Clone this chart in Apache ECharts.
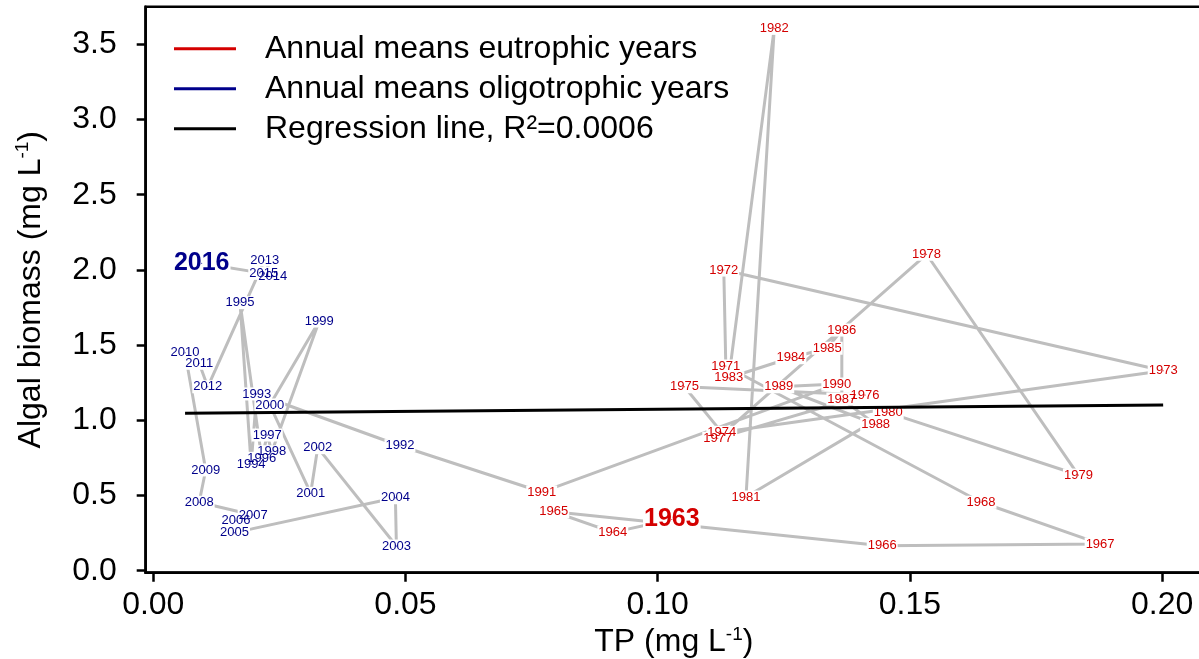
<!DOCTYPE html>
<html><head><meta charset="utf-8">
<script src="https://cdn.jsdelivr.net/npm/echarts@6/dist/echarts.min.js"></script>
<style>html,body{margin:0;padding:0;background:#fff}#c{width:1199px;height:659px}</style>
</head><body><div id="c"></div>
<script>
// ---- data ----
const eutroYears = [1963,1964,1965,1966,1967,1968,1971,1972,1973,1974,1975,1976,1977,1978,1979,1980,1981,1982,1983,1984,1985,1986,1987,1988,1989,1990,1991];
const eutroTP    = [0.1028,0.0911,0.0794,0.1445,0.1877,0.1641,0.1135,0.1131,0.2002,0.1127,0.1053,0.1411,0.1119,0.1533,0.1834,0.1457,0.1175,0.1231,0.1141,0.1264,0.1336,0.1365,0.1365,0.1432,0.1240,0.1355,0.0770];
const eutroAlgae = [0.340,0.255,0.392,0.166,0.178,0.455,1.361,1.999,1.330,0.920,1.223,1.168,0.880,2.104,0.636,1.051,0.490,3.606,1.283,1.416,1.479,1.600,1.142,0.973,1.223,1.241,0.523];
const oligoYears = [1992,1993,1994,1995,1996,1997,1998,1999,2000,2001,2002,2003,2004,2005,2006,2007,2008,2009,2010,2011,2012,2013,2014,2015,2016];
const oligoTP    = [0.0489,0.0205,0.0194,0.0172,0.0215,0.0226,0.0235,0.0329,0.0231,0.0312,0.0326,0.0482,0.0480,0.0161,0.0164,0.0198,0.0091,0.0104,0.0063,0.0091,0.0108,0.0221,0.0237,0.0219,0.0096];
const oligoAlgae = [0.831,1.175,0.707,1.782,0.747,0.902,0.791,1.660,1.102,0.515,0.818,0.164,0.485,0.253,0.332,0.370,0.455,0.670,1.449,1.379,1.223,2.066,1.955,1.977,2.044];
const highlightYears = [1963, 2016];
const regTP    = [0.0063, 0.2002];
const regAlgae = [1.047, 1.102];
const xTicks = [0, 0.05, 0.10, 0.15, 0.20];
const yTicks = [0, 0.5, 1.0, 1.5, 2.0, 2.5, 3.0, 3.5];
const seriesNames = ['Annual means eutrophic years', 'Annual means oligotrophic years', 'Regression line, R\u00b2=0.0006'];

// ---- build ----
const FONT = '"Liberation Sans", Arial, Helvetica, sans-serif';
const RED = '#d40000', BLUE = '#00008b', GREY = '#bebebe';

function pts(years, tp, al) {
  return years.map((y, i) => {
    const item = { value: [tp[i], al[i], y] };
    if (highlightYears.includes(y)) item.label = { fontSize: 25, fontWeight: 'bold' };
    return item;
  });
}
const allPts = pts(eutroYears, eutroTP, eutroAlgae).concat(pts(oligoYears, oligoTP, oligoAlgae));
const pathData = allPts.map(d => [d.value[0], d.value[1]]);

const yearLabel = (color, bg) => ({
  show: true, position: 'inside', formatter: p => String(p.value[2]),
  fontSize: 13, color: color, fontFamily: FONT, backgroundColor: bg, padding: [0, 1]
});

const axisCommon = {
  type: 'value', splitLine: { show: false },
  axisLine: { show: true, onZero: false, lineStyle: { color: '#000', width: 2.5 } },
  nameTextStyle: {
    rich: {
      n: { fontSize: 32, fontFamily: FONT, color: '#000', lineHeight: 34 },
      s: { fontSize: 19, fontFamily: FONT, color: '#000', verticalAlign: 'top', lineHeight: 34 }
    }
  }
};

const option = {
  animation: false,
  backgroundColor: '#fff',
  grid: { left: 145.7, top: 6.7, right: -3, bottom: 86.3, show: true, borderColor: '#000', borderWidth: 2.5, containLabel: false, outerBoundsMode: 'none' },
  legend: {
    data: seriesNames, orient: 'vertical', left: 169, top: 27.7, itemGap: 8,
    icon: 'rect', itemWidth: 62, itemHeight: 3, selectedMode: false,
    textStyle: { fontSize: 32, fontFamily: FONT, color: '#000', lineHeight: 32, padding: [0, 0, 0, 24] }
  },
  xAxis: Object.assign({}, axisCommon, {
    min: -0.0015, max: 0.2079,
    axisTick: { show: true, length: 9, lineStyle: { color: '#000', width: 2.5 }, customValues: xTicks },
    axisLabel: { customValues: xTicks, formatter: v => v.toFixed(2), fontSize: 32, fontFamily: FONT, color: '#000', margin: 16 },
    name: '{n|TP (mg L}{s|-1}{n|)}', nameLocation: 'middle', nameGap: 48
  }),
  yAxis: Object.assign({}, axisCommon, {
    min: -0.0133, max: 3.75,
    axisTick: { show: true, length: 9, lineStyle: { color: '#000', width: 2.5 }, customValues: yTicks },
    axisLabel: { customValues: yTicks, formatter: v => v.toFixed(1), fontSize: 32, fontFamily: FONT, color: '#000', margin: 29 },
    name: '{n|Algal biomass (mg L}{s|-1}{n|)}', nameLocation: 'middle', nameGap: 98, nameRotate: 90
  }),
  series: [
    { type: 'line', name: 'path', data: pathData, showSymbol: false, symbol: 'none', silent: true, z: 1,
      lineStyle: { color: GREY, width: 3 } },
    // white boxes under the year labels, cutting the path line around each point
    { type: 'scatter', name: 'gaps', data: allPts, symbolSize: 1, silent: true, z: 2,
      itemStyle: { color: '#fff', opacity: 1 }, label: yearLabel('rgba(0,0,0,0)', '#fff') },
    { type: 'scatter', name: seriesNames[0], data: pts(eutroYears, eutroTP, eutroAlgae), symbolSize: 1, silent: true, z: 3,
      itemStyle: { color: RED, opacity: 1 }, label: yearLabel(RED, 'transparent') },
    { type: 'scatter', name: seriesNames[1], data: pts(oligoYears, oligoTP, oligoAlgae), symbolSize: 1, silent: true, z: 3,
      itemStyle: { color: BLUE, opacity: 1 }, label: yearLabel(BLUE, 'transparent') },
    { type: 'line', name: seriesNames[2], data: regTP.map((x, i) => [x, regAlgae[i]]), showSymbol: false, symbol: 'none', silent: true, z: 4,
      itemStyle: { color: '#000' }, lineStyle: { color: '#000', width: 3 } }
  ]
};
const chart = echarts.init(document.getElementById('c'), null, { renderer: 'canvas' });
chart.setOption(option);
</script></body></html>
